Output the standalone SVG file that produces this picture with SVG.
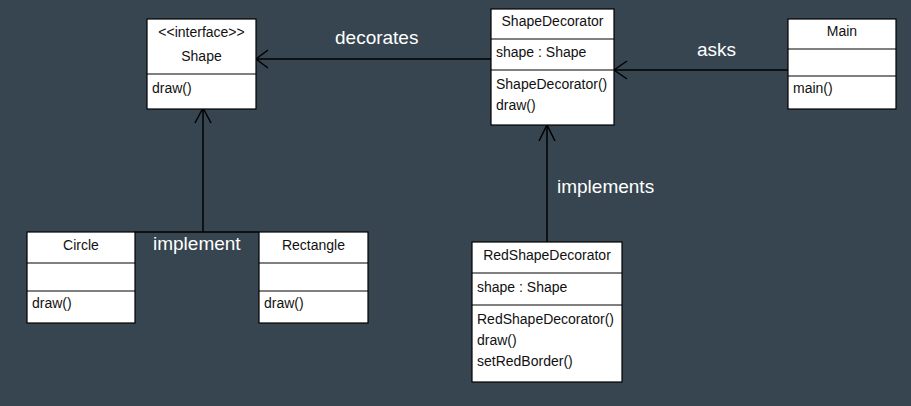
<svg xmlns="http://www.w3.org/2000/svg" width="911" height="406" viewBox="0 0 911 406">
<style>
.box{fill:#ffffff;stroke:#000000;stroke-width:1.2}
.div{stroke:#000000;stroke-width:1}
.t{font-family:"Liberation Sans",Arial,sans-serif;font-size:14px;fill:#111111}
.c{text-anchor:middle}
.lbl{font-family:"Liberation Sans",Arial,sans-serif;font-size:19px;fill:#ffffff}
.ln{stroke:#000000;stroke-width:1.5;fill:none}
</style>
<rect width="911" height="406" fill="#36454f"/>
<g id="connectors">
<line class="ln" x1="491" y1="59" x2="256" y2="59"/>
<polyline class="ln" points="268,50 256,59 268,68"/>
<line class="ln" x1="788" y1="70" x2="614" y2="70"/>
<polyline class="ln" points="627,61 614,70 627,79"/>
<polyline class="ln" points="135,232 259,232"/>
<line class="ln" x1="203" y1="232" x2="203" y2="108"/>
<polyline class="ln" points="195,123 203,108 211,123"/>
<line class="ln" x1="547" y1="242" x2="547" y2="125"/>
<polyline class="ln" points="539,141 547,125 555,141"/>
<text class="lbl" x="335" y="44">decorates</text>
<text class="lbl" x="697" y="56">asks</text>
<text class="lbl" x="557" y="193">implements</text>
<text class="lbl" x="153" y="250">implement</text>
</g>
<g id="Shape">
<rect class="box" x="147" y="19" width="109" height="90"/>
<line class="div" x1="147" y1="74" x2="256" y2="74"/>
<text class="t c" x="201.5" y="37" font-size="13">&lt;&lt;interface&gt;&gt;</text>
<text class="t c" x="201.5" y="61">Shape</text>
<text class="t" x="152" y="93">draw()</text>
</g>
<g id="ShapeDecorator">
<rect class="box" x="491" y="9" width="123" height="116"/>
<line class="div" x1="491" y1="39" x2="614" y2="39"/>
<line class="div" x1="491" y1="70" x2="614" y2="70"/>
<text class="t c" x="552.5" y="26">ShapeDecorator</text>
<text class="t" x="496" y="57">shape : Shape</text>
<text class="t" x="496" y="89">ShapeDecorator()</text>
<text class="t" x="496" y="110">draw()</text>
</g>
<g id="Main">
<rect class="box" x="788" y="19" width="108" height="90"/>
<line class="div" x1="788" y1="49" x2="896" y2="49"/>
<line class="div" x1="788" y1="76" x2="896" y2="76"/>
<text class="t c" x="842" y="36">Main</text>
<text class="t" x="793" y="93">main()</text>
</g>
<g id="Circle">
<rect class="box" x="27" y="232" width="108" height="91"/>
<line class="div" x1="27" y1="263" x2="135" y2="263"/>
<line class="div" x1="27" y1="291" x2="135" y2="291"/>
<text class="t c" x="81" y="250">Circle</text>
<text class="t" x="32" y="308">draw()</text>
</g>
<g id="Rectangle">
<rect class="box" x="259" y="232" width="109" height="91"/>
<line class="div" x1="259" y1="263" x2="368" y2="263"/>
<line class="div" x1="259" y1="291" x2="368" y2="291"/>
<text class="t c" x="313.5" y="250">Rectangle</text>
<text class="t" x="264" y="308">draw()</text>
</g>
<g id="RedShapeDecorator">
<rect class="box" x="472" y="242" width="150" height="140"/>
<line class="div" x1="472" y1="273" x2="622" y2="273"/>
<line class="div" x1="472" y1="305" x2="622" y2="305"/>
<text class="t c" x="547" y="260">RedShapeDecorator</text>
<text class="t" x="477" y="292">shape : Shape</text>
<text class="t" x="477" y="324">RedShapeDecorator()</text>
<text class="t" x="477" y="345">draw()</text>
<text class="t" x="477" y="366">setRedBorder()</text>
</g>
</svg>
